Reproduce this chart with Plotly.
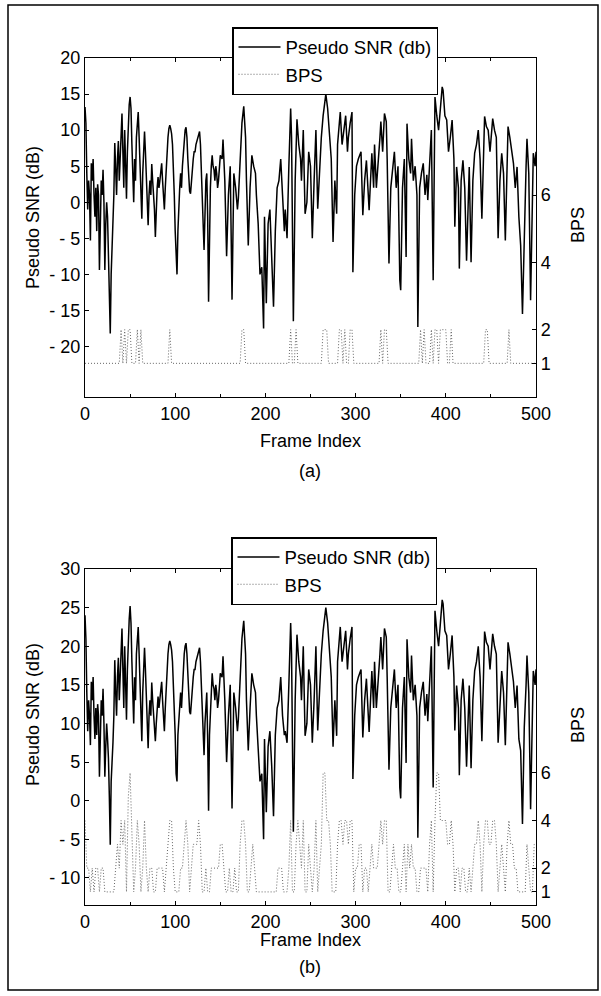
import plotly.graph_objects as go

# ---------------- data ----------------
SNR_FRAMES = list(range(0, 151)) + [
    152, 153, 155, 157, 159, 161, 163, 165, 167, 169, 170, 172, 174, 176, 178, 179, 181, 183, 185, 187,
    189, 190, 192, 194, 196, 198, 199, 201, 203, 205, 207, 209, 211, 213, 215, 217, 219, 221, 222, 224,
    226, 228, 229, 231, 233, 235, 237, 239, 240, 242, 243, 244, 246, 248, 250, 252, 254, 256, 258, 260,
    262, 264, 267, 269, 271, 273, 275, 277, 279, 280, 282, 283, 285, 287, 289, 291, 292, 294, 296, 297,
    299, 301, 303, 306, 308, 310, 312, 315, 318, 320, 321, 323, 325, 327, 328, 330, 332, 334, 335, 337,
    339, 341, 343, 345, 347, 349, 350, 352, 354, 356, 357, 359, 361, 362, 364, 366, 368, 369, 371, 373,
    375, 377, 379, 380, 382, 384, 386, 387, 388, 390, 392, 394, 396, 397, 399, 401, 403, 405, 407, 409,
    410, 412, 414, 415, 417, 419, 421, 423, 425, 426, 428, 430, 432, 434, 436, 438, 440, 442, 443, 445,
    447, 449, 451, 452, 454, 456, 458, 460, 462, 464, 466, 468, 469, 471, 473, 475, 477, 479, 481, 483,
    485, 487, 489, 490, 492, 494, 496, 497, 499, 500]

# panel (a): pseudo SNR in dB
SNR_A = [
    13.2, 11, 4, -1, 3, 1, -5.3, 5.4, 3, 6, 1, -2, 2, -4, 2.5, 1, -9.4, 0, 3, 1,
    4.5, 0, -9.4, -3, 0, -2, -7, -12, -18.2, -10, -6, -5, 1, 8.2, 4, 1, 6, 8.5, 3, 7,
    11, 12.3, 7, 2, 10, 6, 0.5, 7, 12, 13.5, 14.6, 13, 8, 5, 0, 6, 3, 9, 11.5, 12.5,
    9, 4, 1, -2.3, 4, 8, 9.8, 7, 3, -1, -3.2, 1, 3, 1, 5.3, 3, 1, -1, -4.8, 0,
    2, 3.5, 2, 3, 4, 5.4, 3, 1, -1, 2, 5, 7, 9, 10.2, 10.7, 10.2, 9.5, 8, 5, 1,
    -4, -9, -10, -4, 0, 2, 4, 2, 5, 7, 9, 10, 10.4, 9, 6, 3, 1.5, 1.2, 3, 5,
    6, 7, 7, 8, 8.5, 9, 9.5, 9.8, 8, 5, 0, -3, -6.6, 0, 3, 4, -2, -13.8, -4, 2,
    5, 6.5, 5, 4.5, 3, 5, 4, 2, 3, 5, 6.5,
    6, 8.7, 3, -7.5, 1, 5, -13.5, 4, 2, -1, 0.5, 6, 11, 13.3, 9, 3, -6, 2, 6.5, 5,
    4, 1, -3, -10, -9, -17.5, -2, -14, -3, -1, -8, -14.5, -4, 2, 3, 6, 1, -4, -1, -5,
    5, 13, 9, -16.5, 3, 11.5, 8, 6, 3, 10, 4, -1.6, 0, 7, 5, -5, 3, 10, -0.9, 5,
    9, 12, 15, 13, 10, 6, -5.5, 3, -1.6, 8, 11, 12.5, 8, 10, 12, 7, 9, 11, 12.5, -9.7,
    1, 5, 6, 7, -1.8, 3, 5.8, -1.1, 6.8, 2, 8, 2, 5, 9, 11.2, 7, 12.3, 11.2, 6, -8.5,
    2, 5, 7, 2, 5, -10.8, -12.2, 2, 6, -7.6, 10.9, 6, 4, 8.8, 3, 5, 1, -17.3, 2, 4,
    5.4, 1, 3.8, 0.3, 6, 10, -10.8, 8, 14.6, 12, 10, 13, 16, 15.5, 12, 11.4, 7, 9, 11.4, 6,
    -3.4, 4.9, 2, -9.2, 3, 5.8, 2, -8.1, 2, 4.9, -8.3, 3, 6.8, 8, 10, 6, -2.3, 8, 11.9, 10.5,
    10, 7, 10, 11.6, 10, 9, -5, 3, 6.8, 4, -5.3, 6, 10.5, 9, 7, 5.4, 2, 4.9, -2, -6,
    -15.5, -3, 5, 8.8, 4, -13.6, 1, 6.8, 5, 7]

# panel (b): pseudo SNR in dB
SNR_B = [
    24, 21, 14, 9, 13, 11, 7.2, 15.4, 13, 16, 11, 8, 12, 8.5, 12.5, 11, 3.1, 10, 13, 11,
    14.5, 10, 3.1, 7, 10, 8, 5.5, 0.5, -5.7, 2.5, 6.5, 7.5, 11, 18.2, 14, 11, 16, 18.5, 13, 17,
    21, 22.3, 17, 12, 20, 16, 10.5, 17, 22, 23.5, 25.2, 23, 18, 15, 10, 16, 13, 19, 21.5, 22.5,
    19, 14, 11, 7.7, 14, 18, 19.8, 17, 13, 9, 6.8, 11, 13, 11, 15.3, 13, 11, 9, 7.7, 10,
    12, 13.5, 12, 13, 14, 15.4, 13, 11, 9, 12, 15, 17, 19, 20.2, 20.7, 20.2, 19.5, 18, 15, 11,
    8.5, 3.5, 2.5, 8.5, 10, 12, 14, 12, 15, 17, 19, 20, 20.4, 19, 16, 13, 11.5, 11.2, 13, 15,
    16, 17, 17, 18, 18.5, 19, 19.5, 19.8, 18, 15, 10, 7, 5.9, 10, 13, 14, 8, -1.3, 8.5, 12,
    15, 16.5, 15, 14.5, 13, 15, 14, 12, 13, 15, 16.5,
    16, 18.7, 13, 5, 11, 15, -1, 14, 12, 9, 10.5, 16, 21, 23.3, 19, 13, 6.5, 12, 16.5, 15,
    14, 11, 7, 2.5, 3.5, -5, 8, -1.5, 7, 9, 4.5, -2, 8.5, 12, 13, 16, 11, 8.5, 9, 7.5,
    15, 23, 19, -4, 13, 21.5, 18, 16, 13, 20, 14, 8.4, 10, 17, 15, 7.5, 13, 20, 9.1, 15,
    19, 22, 25, 23, 20, 16, 7, 13, 8.4, 18, 21, 22.5, 18, 20, 22, 17, 19, 21, 22.5, 2.8,
    11, 15, 16, 17, 8.2, 13, 15.8, 8.9, 16.8, 12, 18, 12, 15, 19, 21.2, 17, 22.3, 21.2, 16, 4,
    12, 15, 17, 12, 15, 1.7, 0.3, 12, 16, 4.9, 20.9, 16, 14, 18.8, 13, 15, 11, -4.8, 12, 14,
    15.4, 11, 13.8, 10.3, 16, 20, 1.7, 18, 24.6, 22, 20, 23, 26, 25.5, 22, 21.4, 17, 19, 21.4, 16,
    9.1, 14.9, 12, 3.3, 13, 15.8, 12, 4.4, 12, 14.9, 4.2, 13, 16.8, 18, 20, 16, 7.7, 18, 21.9, 20.5,
    20, 17, 20, 21.6, 20, 19, 7.5, 13, 16.8, 14, 7.2, 16, 20.5, 19, 17, 15.4, 12, 14.9, 8, 6.5,
    -3, 9.5, 15, 18.8, 14, -1.1, 11, 16.8, 15, 17]

# panel (a): bits per symbol, break points
BPS_A_FRAMES = [0, 38, 40, 42, 44, 46, 48, 50, 52, 56, 58, 60, 62, 64, 92, 94, 96, 172, 174, 176,
                178, 226, 228, 230, 232, 234, 236, 262, 264, 266, 268, 270, 280, 282, 284, 286, 288,
                290, 292, 294, 296, 298, 326, 328, 330, 332, 334, 336, 370, 372, 374, 376, 378, 382,
                384, 386, 388, 390, 392, 394, 400, 402, 404, 406, 408, 442, 444, 446, 448, 468, 470,
                472, 500]
BPS_A = [1, 1, 2, 1, 2, 1, 2, 2, 1, 1, 2, 1, 2, 1, 1, 2, 1, 1, 2, 2,
         1, 1, 2, 1, 1, 2, 1, 1, 2, 2, 2, 1, 1, 2, 2, 1, 2,
         1, 1, 2, 2, 1, 1, 2, 1, 2, 2, 1, 1, 2, 1, 2, 1, 1,
         2, 1, 2, 2, 1, 2, 2, 1, 1, 2, 1, 1, 2, 2, 1, 1, 2,
         1, 1]

# panel (b): bits per symbol, one value every second frame
BPS_B_FRAMES = list(range(0, 501, 2))
BPS_B = [4, 2, 2, 1, 2, 1, 2, 2, 1, 2, 2, 1, 1, 1, 1, 1, 1, 2, 3, 2,
         4, 3, 4, 1, 5, 6, 3, 1, 2, 4, 3, 1, 2, 4, 2, 1, 2, 2, 1, 1,
         2, 2, 2, 2, 1, 2, 3, 4, 4, 2, 1, 1, 1, 2, 2, 3, 4, 3, 1, 2,
         3, 3, 3, 4, 3, 1, 1, 2, 1, 1, 2, 2, 2, 2, 2, 3, 3, 2, 1, 1,
         2, 1, 1, 2, 1, 1, 3, 4, 4, 3, 1, 1, 2, 3, 2, 1, 1, 1, 1, 1,
         1, 1, 1, 1, 1, 1, 1, 2, 2, 2, 1, 1, 1, 2, 4, 1, 1, 3, 4, 3,
         2, 4, 1, 1, 3, 2, 1, 2, 4, 1, 2, 3, 6, 6, 4, 4, 3, 1, 1, 1,
         3, 4, 4, 3, 4, 4, 3, 4, 4, 1, 2, 2, 3, 3, 1, 2, 2, 1, 2, 3,
         2, 2, 2, 3, 4, 3, 4, 4, 1, 1, 2, 3, 2, 2, 1, 1, 2, 3, 1, 3,
         2, 3, 2, 2, 1, 1, 2, 2, 2, 2, 1, 3, 4, 1, 4, 6, 6, 4, 4, 4,
         4, 3, 3, 4, 3, 1, 2, 2, 1, 2, 2, 1, 1, 2, 1, 2, 3, 3, 4, 3,
         1, 3, 4, 4, 3, 3, 4, 4, 3, 1, 2, 3, 2, 1, 3, 4, 3, 3, 2, 2,
         1, 1, 1, 1, 1, 3, 2, 1, 1, 3, 3]

X_TICKS = [0, 100, 200, 300, 400, 500]
YA_TICKS = [20, 15, 10, 5, 0, -5, -10, -15, -20]
YA_TEXT = ["20", "15", "10", "5", "0", "- 5", "- 10", "- 15", "- 20"]
YB_TICKS = [30, 25, 20, 15, 10, 5, 0, -5, -10]
YB_TEXT = ["30", "25", "20", "15", "10", "5", "0", "- 5", "- 10"]
BPS_TICKS = [1, 2, 4, 6]

assert len(SNR_FRAMES) == len(SNR_A) == len(SNR_B)
assert len(BPS_A_FRAMES) == len(BPS_A)
assert len(BPS_B_FRAMES) == len(BPS_B)

# ---------------- figure ----------------
W, H = 601, 996
FONT = "Liberation Sans, Arial, Helvetica, sans-serif"


def px_x(p):
    return p / W


def px_y(p):
    return 1 - p / H


XD = [px_x(85), px_x(536)]
DA = [px_y(397), px_y(58)]
DB = [px_y(905), px_y(569)]

snr_line = dict(color="black", width=1.5)
bps_line = dict(color="#666666", width=1, dash="1px,2px")

fig = go.Figure()
fig.add_trace(go.Scatter(x=SNR_FRAMES, y=SNR_A, mode="lines", line=snr_line,
                         name="Pseudo SNR (db)", xaxis="x", yaxis="y", legend="legend"))
fig.add_trace(go.Scatter(x=BPS_A_FRAMES, y=BPS_A, mode="lines", line=bps_line,
                         name="BPS", xaxis="x", yaxis="y2", legend="legend"))
fig.add_trace(go.Scatter(x=SNR_FRAMES, y=SNR_B, mode="lines", line=snr_line,
                         name="Pseudo SNR (db)", xaxis="x2", yaxis="y3", legend="legend2"))
fig.add_trace(go.Scatter(x=BPS_B_FRAMES, y=BPS_B, mode="lines", line=bps_line,
                         name="BPS", xaxis="x2", yaxis="y4", legend="legend2"))

common_axis = dict(showline=True, linecolor="black", linewidth=1.3, showgrid=False,
                   zeroline=False, ticks="inside", ticklen=4, tickcolor="black",
                   automargin=False,
                   tickfont=dict(size=18, color="black", family=FONT))

xaxis_common = dict(common_axis, range=[0, 500], tickvals=X_TICKS, mirror="ticks",
                    minor=dict(ticks="inside", ticklen=3, dtick=50, tickcolor="black"))

legend_common = dict(xanchor="left", yanchor="top", bgcolor="white", bordercolor="black",
                     borderwidth=1.5, font=dict(size=18.6, family=FONT, color="black"),
                     itemwidth=42)

fig.update_layout(
    width=W, height=H, autosize=False,
    margin=dict(l=0, r=0, t=0, b=0, pad=0, autoexpand=False),
    paper_bgcolor="white", plot_bgcolor="white",
    font=dict(family=FONT, size=18, color="black"),
    showlegend=True,
    xaxis=dict(xaxis_common, domain=XD, anchor="y"),
    yaxis=dict(common_axis, domain=DA, anchor="x", range=[-27.0, 20],
               tickvals=YA_TICKS, ticktext=YA_TEXT),
    yaxis2=dict(common_axis, overlaying="y", side="right", anchor="x", range=[0, 10.07],
                tickvals=BPS_TICKS),
    xaxis2=dict(xaxis_common, domain=XD, anchor="y3"),
    yaxis3=dict(common_axis, domain=DB, anchor="x2", range=[-13.5, 30],
                tickvals=YB_TICKS, ticktext=YB_TEXT),
    yaxis4=dict(common_axis, overlaying="y3", side="right", anchor="x2", range=[0.45, 14.57],
                tickvals=BPS_TICKS),
    legend=dict(legend_common, x=px_x(232), y=px_y(27)),
    legend2=dict(legend_common, x=px_x(231), y=px_y(537)),
)

ann = []
for ycen in (218, 715):
    ann.append(dict(text="Pseudo SNR (dB)", textangle=-90, x=px_x(33), y=px_y(ycen),
                    xanchor="center", yanchor="middle",
                    xref="paper", yref="paper", showarrow=False, font=dict(size=18)))
for ycen in (225, 725):
    ann.append(dict(text="BPS", textangle=-90, x=px_x(578), y=px_y(ycen),
                    xanchor="center", yanchor="middle",
                    xref="paper", yref="paper", showarrow=False, font=dict(size=18)))
for ycen, lab in ((441, "Frame Index"), (940, "Frame Index"), (471, "(a)"), (967, "(b)")):
    ann.append(dict(text=lab, x=px_x(310), y=px_y(ycen), xref="paper", yref="paper",
                    xanchor="center", yanchor="middle",
                    showarrow=False, font=dict(size=18)))
fig.update_layout(annotations=ann)

fig.add_shape(type="rect", xref="paper", yref="paper",
              x0=px_x(8), x1=px_x(598), y0=px_y(990), y1=px_y(5),
              line=dict(color="black", width=1.5))

fig.write_html("out.html")
